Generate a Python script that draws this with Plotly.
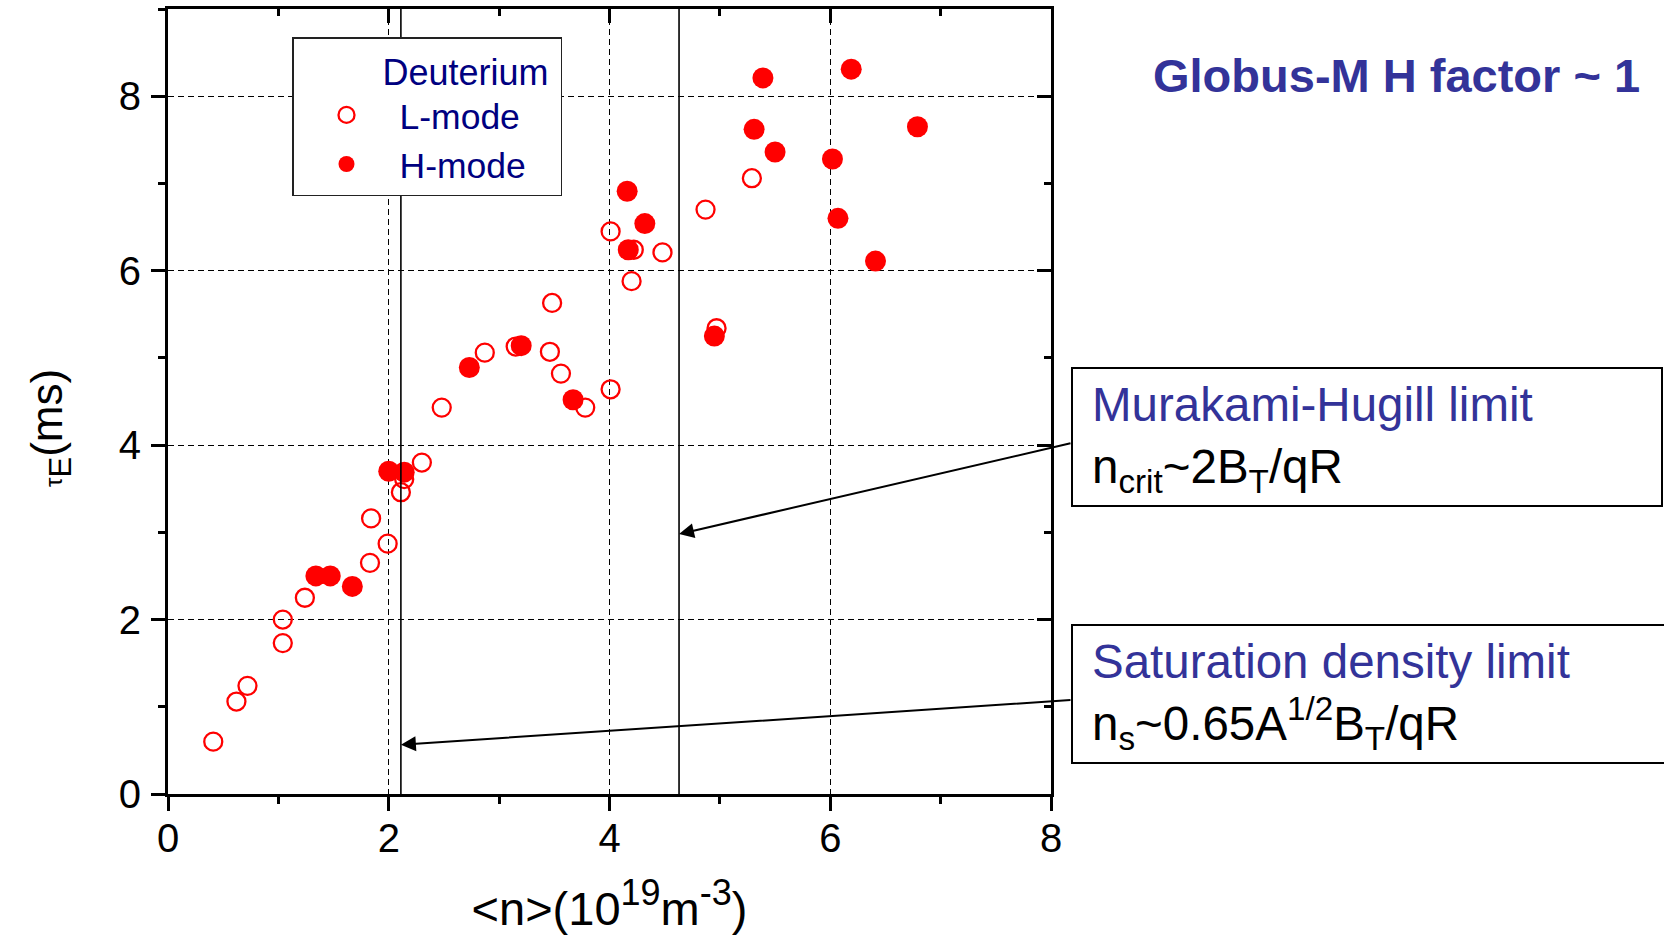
import plotly.graph_objects as go

# ---- data ----
l_mode_n = [0.41, 0.62, 0.72, 1.04, 1.04, 1.24, 1.83, 1.84, 1.99, 2.11, 2.14, 2.30, 2.48,
            2.87, 3.15, 3.46, 3.48, 3.56, 3.78, 4.01, 4.01, 4.20, 4.22, 4.48, 4.87, 4.97, 5.29]
l_mode_tau = [0.60, 1.06, 1.24, 2.00, 1.73, 2.25, 2.65, 3.16, 2.87, 3.46, 3.61, 3.80, 4.43,
              5.06, 5.13, 5.07, 5.63, 4.82, 4.43, 4.64, 6.45, 5.88, 6.24, 6.21, 6.70, 5.34, 7.06]

h_mode_n = [1.34, 1.47, 1.67, 2.00, 2.14, 2.73, 3.20, 3.67, 4.16, 4.17, 4.32, 4.95, 5.31,
            5.39, 5.50, 6.02, 6.07, 6.19, 6.41, 6.79]
h_mode_tau = [2.50, 2.50, 2.38, 3.70, 3.69, 4.89, 5.14, 4.52, 6.91, 6.24, 6.54, 5.25, 7.62,
              8.21, 7.36, 7.28, 6.60, 8.31, 6.11, 7.65]

density_limits = [2.11, 4.63]          # saturation limit, Murakami-Hugill limit
limit_arrow_tau = [0.565, 2.98]        # where the arrows touch the limit lines
x_ticks = [0, 2, 4, 6, 8]
y_ticks = [0, 2, 4, 6, 8]

FONT = "Liberation Sans, Arial, sans-serif"
RED = "#FF0000"
NAVY = "#000080"
BLUE = "#333399"
NB = "\u00a0"

# ---- page geometry (pixels) ----
W, H = 1664, 935
ML, MR, MT, MB = 168, 613, 9, 141
PW, PH = W - ML - MR, H - MT - MB


def px_x(p):
    return (p - ML) / PW


def px_y(p):
    return (H - MB - p) / PH


def data_x_of_px(p):
    return (p - ML) / PW * 8.0


def data_y_of_px(p):
    return (H - MB - p) / PH * 9.0


fig = go.Figure()

fig.add_trace(go.Scatter(
    x=l_mode_n, y=l_mode_tau, mode="markers", name="L-mode" + NB * 3,
    marker=dict(symbol="circle-open", size=18, color=RED, line=dict(width=2.3, color=RED)),
))
fig.add_trace(go.Scatter(
    x=h_mode_n, y=h_mode_tau, mode="markers", name="H-mode" + NB * 3,
    marker=dict(symbol="circle", size=21, color=RED, line=dict(width=0)),
))
# empty traces so that the mirrored (inside-tick) axes exist
fig.add_trace(go.Scatter(x=[], y=[], xaxis="x2", yaxis="y", showlegend=False, hoverinfo="skip"))
fig.add_trace(go.Scatter(x=[], y=[], xaxis="x", yaxis="y2", showlegend=False, hoverinfo="skip"))

for xv in density_limits:
    fig.add_vline(x=xv, line=dict(color="black", width=1.6), layer="above")

axis_common = dict(
    showline=True, linecolor="black", linewidth=3, zeroline=False,
    ticklen=14, tickwidth=3, tickcolor="black",
    tickfont=dict(size=40, color="black", family=FONT),
)

fig.update_layout(
    width=W, height=H,
    margin=dict(l=ML, r=MR, t=MT, b=MB, autoexpand=False),
    paper_bgcolor="white", plot_bgcolor="white",
    font=dict(family=FONT, color="black"),
    showlegend=True,
    xaxis=dict(
        range=[0, 8], tickvals=x_ticks, ticks="outside", mirror=True,
        showgrid=True, gridcolor="black", gridwidth=1, griddash="6px,4px",
        minor=dict(ticks="outside", ticklen=7, tickwidth=3, tickcolor="black", dtick=1, tick0=0, showgrid=False),
        ticklabelstandoff=-7,
        title=dict(text="&lt;n&gt;(10<sup><span style='font-size:36px'>19</span></sup>m"
                        "<sup><span style='font-size:36px'>-3</span></sup>)",
                   font=dict(size=47, family=FONT, color="black"), standoff=36),
        **axis_common,
    ),
    yaxis=dict(
        range=[0, 9], tickvals=y_ticks, ticks="outside", mirror=True,
        showgrid=True, gridcolor="black", gridwidth=1, griddash="6px,4px",
        minor=dict(ticks="outside", ticklen=7, tickwidth=3, tickcolor="black", dtick=1, tick0=0, showgrid=False),
        ticklabelstandoff=2,
        **axis_common,
    ),
    xaxis2=dict(
        overlaying="x", side="top", anchor="y", range=[0, 8], tickvals=x_ticks,
        ticks="inside", ticklen=14, tickwidth=3, tickcolor="black",
        showticklabels=False, showgrid=False, showline=False, zeroline=False,
        minor=dict(ticks="inside", ticklen=7, tickwidth=3, tickcolor="black", dtick=1, tick0=0),
    ),
    yaxis2=dict(
        overlaying="y", side="right", anchor="x", range=[0, 9], tickvals=y_ticks,
        ticks="inside", ticklen=14, tickwidth=3, tickcolor="black",
        showticklabels=False, showgrid=False, showline=False, zeroline=False,
        minor=dict(ticks="inside", ticklen=7, tickwidth=3, tickcolor="black", dtick=1, tick0=0),
    ),
    legend=dict(
        x=px_x(292), y=px_y(37), xanchor="left", yanchor="top",
        bgcolor="white", bordercolor="#222222", borderwidth=1.5,
        font=dict(size=35.5, color=NAVY, family=FONT),
        title=dict(text="Deuterium" + NB, side="top right", font=dict(size=36, color=NAVY, family=FONT)),
        itemwidth=96, tracegroupgap=0,
    ),
)

# y-axis title (placed as a rotated text next to the axis)
fig.add_annotation(
    text="<span style='font-size:24px'>τ</span><sub><span style='font-size:31px'>E</span></sub>(ms)",
    xref="paper", yref="paper", x=px_x(50), y=px_y(428), textangle=-90,
    xanchor="center", yanchor="middle", showarrow=False,
    font=dict(size=44, color="black", family=FONT),
)

# title text
fig.add_annotation(
    text="<b>Globus-M H factor ~ 1</b>", xref="paper", yref="paper",
    x=px_x(1396), y=px_y(76), xanchor="center", yanchor="middle", showarrow=False,
    font=dict(size=47, color=BLUE, family=FONT),
)

# annotation boxes
boxes = [
    dict(x0=1072, x1=1662, y0=368, y1=506,
         text="<span style='color:%s'>Murakami-Hugill limit</span><br>n<sub>crit</sub>~2B<sub>T</sub>/qR" % BLUE),
    dict(x0=1072, x1=1720, y0=625, y1=763,
         text="<span style='color:%s'>Saturation density limit</span><br>n<sub>s</sub>~0.65A<sup>1/2</sup>B<sub>T</sub>/qR" % BLUE),
]
for b in boxes:
    fig.add_shape(type="rect", xref="paper", yref="paper",
                  x0=px_x(b["x0"]), x1=px_x(b["x1"]), y0=px_y(b["y1"]), y1=px_y(b["y0"]),
                  line=dict(color="black", width=2), fillcolor="rgba(0,0,0,0)")
    fig.add_annotation(text=b["text"], xref="paper", yref="paper",
                       x=px_x(b["x0"] + 18), y=px_y((b["y0"] + b["y1"]) / 2 + 2),
                       xanchor="left", yanchor="middle", align="left", showarrow=False,
                       font=dict(size=47.5, color="black", family=FONT))

# arrows from the boxes to the limit lines
arrow_tails_px = [(1072, 700), (1072, 443)]
for xv, yv, (tx, ty) in zip(density_limits, limit_arrow_tau, arrow_tails_px):
    fig.add_annotation(x=xv, y=yv, xref="x", yref="y",
                       ax=data_x_of_px(tx), ay=data_y_of_px(ty), axref="x", ayref="y",
                       showarrow=True, arrowhead=2, arrowsize=1.5, arrowwidth=2,
                       arrowcolor="black", standoff=0, text="")

fig.write_html("out.html")
